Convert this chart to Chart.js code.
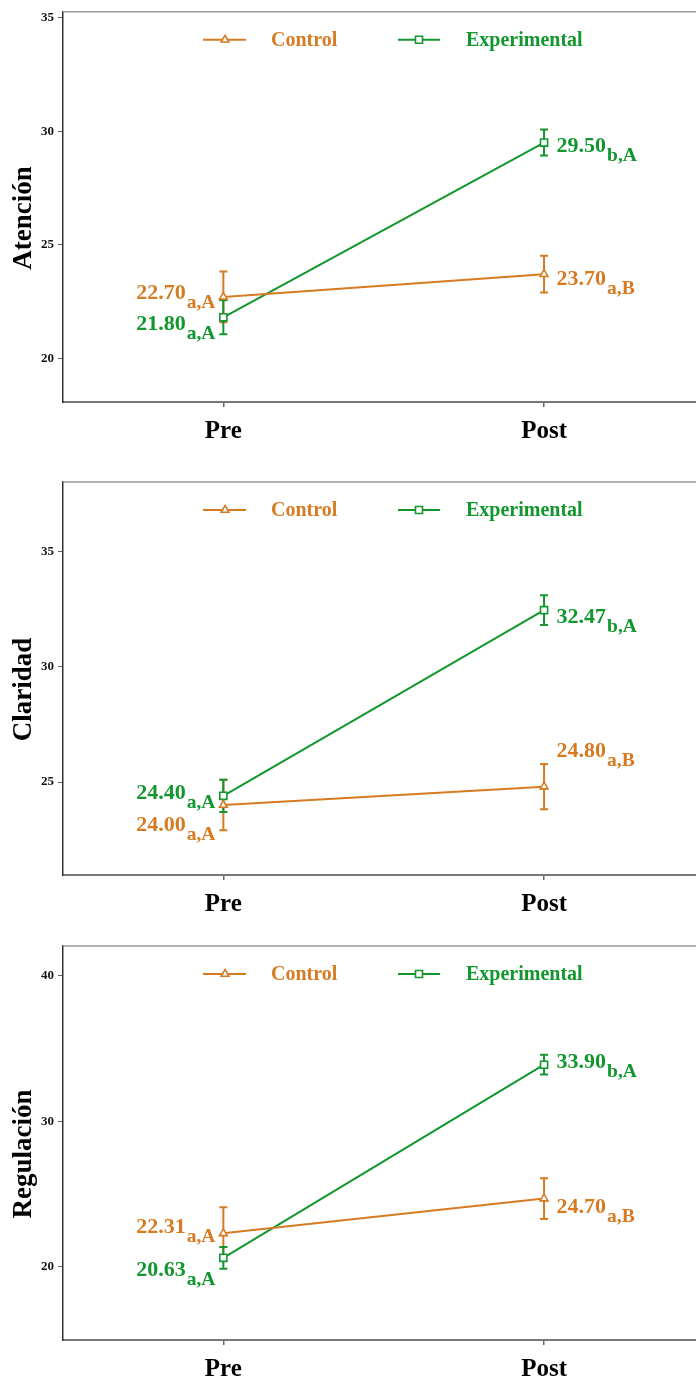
<!DOCTYPE html>
<html>
<head>
<meta charset="utf-8">
<script src="https://cdn.jsdelivr.net/npm/chart.js@4.4.1/dist/chart.umd.min.js"></script>
<style>
  html, body { margin: 0; padding: 0; background: #fff; overflow: hidden; }
  .panel { position: absolute; left: 0; }
</style>
</head>
<body>
<div class="panel" style="top:0px"><canvas id="atencion" width="711" height="460"></canvas></div>
<div class="panel" style="top:460px"><canvas id="claridad" width="711" height="470"></canvas></div>
<div class="panel" style="top:930px"><canvas id="regulacion" width="711" height="451"></canvas></div>
<script>
// datos
const phases = ['Pre', 'Post'];
const groups = ['Control', 'Experimental'];

const atencionControl = [22.70, 23.70];
const atencionExperimental = [21.80, 29.50];
const atencionControlErr = [1.12, 0.81];
const atencionExperimentalErr = [0.75, 0.57];
const atencionControlTags = ['a,A', 'a,B'];
const atencionExperimentalTags = ['a,A', 'b,A'];
const atencionTicks = [20, 25, 30, 35];

const claridadControl = [24.00, 24.80];
const claridadExperimental = [24.40, 32.47];
const claridadControlErr = [1.10, 0.98];
const claridadExperimentalErr = [0.70, 0.65];
const claridadControlTags = ['a,A', 'a,B'];
const claridadExperimentalTags = ['a,A', 'b,A'];
const claridadTicks = [25, 30, 35];

const regulacionControl = [22.31, 24.70];
const regulacionExperimental = [20.63, 33.90];
const regulacionControlErr = [1.80, 1.40];
const regulacionExperimentalErr = [0.75, 0.68];
const regulacionControlTags = ['a,A', 'a,B'];
const regulacionExperimentalTags = ['a,A', 'b,A'];
const regulacionTicks = [20, 30, 40];

const orange = '#D67B22';
const green = '#12962E';
const serif = '"Liberation Serif", "Times New Roman", serif';

// layout de cada panel (px) + desplazamiento vertical de las etiquetas
const panels = [
  { id: 'atencion', title: 'Atención', top: 10, bottom: 402, min: 18.07, max: 35.26,
    control: atencionControl, experimental: atencionExperimental,
    controlErr: atencionControlErr, experimentalErr: atencionExperimentalErr,
    controlTags: atencionControlTags, experimentalTags: atencionExperimentalTags,
    ticks: atencionTicks, shiftControl: [2, 10.5], shiftExperimental: [13, 9.5] },
  { id: 'claridad', title: 'Claridad', top: 22, bottom: 415, min: 20.96, max: 38.04,
    control: claridadControl, experimental: claridadExperimental,
    controlErr: claridadControlErr, experimentalErr: claridadExperimentalErr,
    controlTags: claridadControlTags, experimentalTags: claridadExperimentalTags,
    ticks: claridadTicks, shiftControl: [26, -30], shiftExperimental: [3.5, 13] },
  { id: 'regulacion', title: 'Regulación', top: 16, bottom: 410, min: 14.98, max: 42.06,
    control: regulacionControl, experimental: regulacionExperimental,
    controlErr: regulacionControlErr, experimentalErr: regulacionExperimentalErr,
    controlTags: regulacionControlTags, experimentalTags: regulacionExperimentalTags,
    ticks: regulacionTicks, shiftControl: [0, 14], shiftExperimental: [18, 3] }
];

function drawMarker(ctx, style, x, y, color) {
  ctx.save();
  ctx.strokeStyle = color;
  ctx.lineWidth = 1.6;
  ctx.beginPath();
  if (style === 'triangle') {
    ctx.moveTo(x, y - 4.5);
    ctx.lineTo(x + 3.9, y + 2.25);
    ctx.lineTo(x - 3.9, y + 2.25);
    ctx.closePath();
  } else {
    ctx.rect(x - 3.5, y - 3.5, 7, 7);
  }
  ctx.fillStyle = '#fff';
  ctx.fill();
  ctx.stroke();
  ctx.restore();
}

function extras(p) {
  const series = [
    { name: groups[0], color: orange, style: 'triangle', vals: p.control, err: p.controlErr, tags: p.controlTags, shift: p.shiftControl },
    { name: groups[1], color: green, style: 'rect', vals: p.experimental, err: p.experimentalErr, tags: p.experimentalTags, shift: p.shiftExperimental }
  ];
  return {
    id: 'extras',
    beforeDatasetsDraw(chart) {
      const { ctx, scales: { x, y } } = chart;
      ctx.save();
      ctx.lineWidth = 2;
      series.forEach(s => {
        ctx.strokeStyle = s.color;
        s.vals.forEach((v, i) => {
          const px = x.getPixelForValue(i);
          const hi = y.getPixelForValue(v + s.err[i]);
          const lo = y.getPixelForValue(v - s.err[i]);
          ctx.beginPath();
          ctx.moveTo(px, hi); ctx.lineTo(px, lo);
          ctx.moveTo(px - 4, hi); ctx.lineTo(px + 4, hi);
          ctx.moveTo(px - 4, lo); ctx.lineTo(px + 4, lo);
          ctx.stroke();
        });
      });
      ctx.restore();
    },
    afterDraw(chart) {
      const { ctx, chartArea: a, scales: { x, y } } = chart;
      ctx.save();
      // borde superior
      ctx.strokeStyle = '#9a9a9a';
      ctx.lineWidth = 1.5;
      ctx.beginPath();
      ctx.moveTo(a.left, a.top); ctx.lineTo(a.right, a.top);
      ctx.stroke();

      // etiquetas de valores con subindice
      const big = 'bold 22px ' + serif;
      const small = 'bold 19.5px ' + serif;
      ctx.textBaseline = 'alphabetic';
      ctx.textAlign = 'left';
      series.forEach(s => {
        ctx.fillStyle = s.color;
        s.vals.forEach((v, i) => {
          const px = x.getPixelForValue(i);
          const base = y.getPixelForValue(v) + s.shift[i];
          const main = v.toFixed(2);
          ctx.font = big;
          const mw = ctx.measureText(main).width;
          ctx.font = small;
          const sw = ctx.measureText(s.tags[i]).width;
          const x0 = i === 0 ? px - 8 - sw - mw - 1 : px + 12.5;
          ctx.font = big;
          ctx.fillText(main, x0, base);
          ctx.font = small;
          ctx.fillText(s.tags[i], x0 + mw + 1, base + 9);
        });
      });

      // leyenda
      const ly = a.top + 28;
      const legendX = [[203, 225, 246, 271], [398, 419, 440, 466]];
      series.forEach((s, k) => {
        const [l0, m, l1, tx] = legendX[k];
        ctx.strokeStyle = s.color;
        ctx.lineWidth = 2;
        ctx.beginPath();
        ctx.moveTo(l0, ly); ctx.lineTo(l1, ly);
        ctx.stroke();
        drawMarker(ctx, s.style, m, ly, s.color);
        ctx.fillStyle = s.color;
        ctx.font = 'bold 20px ' + serif;
        ctx.textBaseline = 'middle';
        ctx.fillText(s.name, tx, ly + 1);
      });

      // titulo del eje y
      ctx.translate(24, (a.top + a.bottom) / 2 + 11);
      ctx.rotate(-Math.PI / 2);
      ctx.fillStyle = '#000';
      ctx.font = 'bold 27px ' + serif;
      ctx.textAlign = 'center';
      ctx.textBaseline = 'middle';
      ctx.fillText(p.title, 0, 0);
      ctx.restore();
    }
  };
}

panels.forEach(p => {
  const canvas = document.getElementById(p.id);
  const H = canvas.height;
  new Chart(canvas, {
    type: 'line',
    data: {
      labels: phases,
      datasets: [
        { label: groups[0], data: p.control, borderColor: orange, backgroundColor: '#fff',
          borderWidth: 2, pointStyle: 'triangle', pointRadius: 4.5, pointBorderWidth: 1.6 },
        { label: groups[1], data: p.experimental, borderColor: green, backgroundColor: '#fff',
          borderWidth: 2, pointStyle: 'rect', pointRadius: 5, pointBorderWidth: 1.6 }
      ]
    },
    options: {
      responsive: false,
      animation: false,
      events: [],
      layout: { padding: { top: p.top, left: 0, right: 0, bottom: 0 } },
      plugins: { legend: { display: false }, tooltip: { enabled: false } },
      scales: {
        x: {
          offset: true,
          grid: { display: true, drawOnChartArea: false, tickLength: 5, color: '#666', lineWidth: 1.5 },
          border: { display: true, color: '#777', width: 2 },
          ticks: { color: '#000', padding: 10, font: { family: serif, size: 25, weight: 'bold' } },
          afterFit: s => { s.height = H - p.bottom; }
        },
        y: {
          min: p.min,
          max: p.max,
          afterBuildTicks: s => { s.ticks = p.ticks.map(v => ({ value: v })); },
          grid: { display: true, drawOnChartArea: false, tickLength: 5, color: '#666', lineWidth: 1 },
          border: { display: true, color: '#333', width: 1.5 },
          ticks: { color: '#111', padding: 4, font: { family: serif, size: 13, weight: 'bold' } },
          afterFit: s => { s.width = 63; }
        }
      }
    },
    plugins: [extras(p)]
  });
});
</script>
</body>
</html>
